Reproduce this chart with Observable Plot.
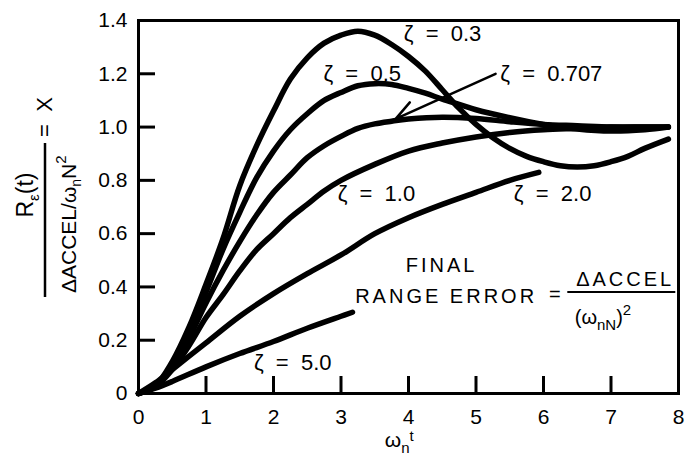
<!DOCTYPE html>
<html><head><meta charset="utf-8">
<script src="https://cdn.jsdelivr.net/npm/d3@7"></script>
<script src="https://cdn.jsdelivr.net/npm/@observablehq/plot@0.6"></script>
<style>
html,body{margin:0;padding:0;background:#fff;}
#chart svg{display:block;}
</style></head><body><div id="chart"></div>
<script>
// ---- data ----
const xTicks = [0,1,2,3,4,5,6,7,8];
const yTicks = [0,0.2,0.4,0.6,0.8,1.0,1.2,1.4];

const x03 = [0,0.25,0.5,0.75,1,1.25,1.5,1.75,2,2.25,2.5,2.75,3,3.25,3.5,3.75,4,4.25,4.5,4.75,5,5.25,5.5,5.75,6,6.25,6.5,6.75,7,7.25,7.5,7.85];
const y03 = [0,0.03,0.12,0.25,0.41,0.58,0.78,0.93,1.06,1.18,1.26,1.315,1.345,1.36,1.345,1.31,1.265,1.21,1.14,1.07,1.01,0.96,0.92,0.89,0.87,0.855,0.85,0.855,0.87,0.89,0.92,0.955];

const x05 = [0,0.25,0.5,0.75,1,1.25,1.5,1.75,2,2.25,2.5,2.75,3,3.25,3.5,3.75,4,4.25,4.5,4.75,5,5.5,6,6.5,7,7.5,7.85];
const y05 = [0,0.03,0.11,0.23,0.38,0.54,0.68,0.81,0.91,0.99,1.05,1.10,1.13,1.155,1.163,1.16,1.145,1.127,1.105,1.085,1.065,1.035,1.01,0.993,0.985,0.99,1.0];

const x0707 = [0,0.25,0.5,0.75,1,1.25,1.5,1.75,2,2.25,2.5,2.75,3,3.25,3.5,3.75,4,4.5,5,5.5,6,6.5,7,7.5,7.85];
const y0707 = [0,0.03,0.1,0.21,0.34,0.46,0.57,0.67,0.755,0.82,0.885,0.93,0.965,0.995,1.012,1.022,1.03,1.037,1.032,1.02,1.01,1.005,1.0,1.0,1.0];

const x10 = [0,0.25,0.5,0.75,1,1.25,1.5,1.75,2,2.25,2.5,2.75,3,3.5,4,4.5,5,5.5,6,6.5,7,7.5,7.85];
const y10 = [0,0.025,0.09,0.18,0.285,0.37,0.46,0.54,0.6,0.66,0.71,0.76,0.8,0.86,0.91,0.94,0.963,0.98,0.99,0.995,1.0,1.0,1.0];

const x20 = [0,0.25,0.5,0.75,1,1.5,2,2.5,3,3.5,4,4.5,5,5.5,5.93];
const y20 = [0,0.04,0.09,0.14,0.19,0.29,0.375,0.45,0.52,0.6,0.66,0.71,0.755,0.8,0.83];

const x50 = [0,0.25,0.5,1,1.5,2,2.5,3,3.17];
const y50 = [0,0.02,0.045,0.1,0.15,0.195,0.245,0.29,0.305];

const zetas = ["0.3","0.5","0.707","1.0","2.0","5.0"];
const seriesX = [x03,x05,x0707,x10,x20,x50];
const seriesY = [y03,y05,y0707,y10,y20,y50];

// curve labels
const labelText = zetas.map(z => "ζ  =  " + z);
const labelX = [3.93,2.74,5.36,2.95,5.56,1.71];
const labelY = [1.35,1.20,1.20,0.75,0.75,0.114];

// arrow for zeta = 0.707
const arrowFrom = [5.29,1.20];
const arrowTo = [3.81,1.031];

// ---- layout ----
const W = 685, H = 457, mL = 138, mR = 7, mT = 20, mB = 64;
const innerW = W - mL - mR, innerH = H - mT - mB;
const FONT = "'Liberation Sans', Arial, Helvetica, sans-serif";
const TICK = 17;

const lineData = seriesX.flatMap((xs, k) => xs.map((x, i) => ({zeta: zetas[k], x, y: seriesY[k][i]})));
const labelData = labelText.map((t, i) => ({t, x: labelX[i], y: labelY[i]}));
const arrowData = [{x1: arrowFrom[0], y1: arrowFrom[1], x2: arrowTo[0], y2: arrowTo[1]}];
const noteMid = [
  {t: "FINAL", x: 4.49, y: 0.481},
  {t: "=", x: 6.19, y: 0.37},
  {t: "ΔACCEL", x: 7.21, y: 0.427}
];
const noteStart = [{t: "RANGE ERROR", x: 3.21, y: 0.365}];
const barData = [{x1: 6.36, x2: 7.96, y: 0.381}];

const plot = Plot.plot({
  width: W, height: H,
  marginLeft: mL, marginRight: mR, marginTop: mT, marginBottom: mB,
  style: {background: "#fff", fontFamily: FONT, fontSize: "21px", color: "#000"},
  x: {domain: [0, 8], label: null},
  y: {domain: [0, 1.4], label: null},
  marks: [
    Plot.tickX(xTicks.slice(1, -1), {x: d => d, insetTop: innerH - TICK, stroke: "#000", strokeWidth: 3}),
    Plot.tickY(yTicks.slice(1, -1), {y: d => d, insetRight: innerW - TICK, stroke: "#000", strokeWidth: 3}),
    Plot.axisX(xTicks, {tickSize: 0, tickPadding: 16, tickFormat: d => String(d), fontSize: 21, label: null}),
    Plot.axisY(yTicks, {tickSize: 0, tickPadding: 11, tickFormat: d => d === 0 ? "0" : d.toFixed(1), fontSize: 21, label: null}),
    Plot.line(lineData, {x: "x", y: "y", z: "zeta", stroke: "#000", strokeWidth: 5.5, curve: "catmull-rom", strokeLinecap: "round", strokeLinejoin: "round"}),
    Plot.arrow(arrowData, {x1: "x1", y1: "y1", x2: "x2", y2: "y2", stroke: "#000", strokeWidth: 2.5, headLength: 13, headAngle: 50}),
    Plot.text(labelData, {x: "x", y: "y", text: "t", textAnchor: "start", fontSize: 22, fill: "#000"}),
    Plot.text(noteMid, {x: "x", y: "y", text: "t", textAnchor: "middle", fontSize: 20, fill: "#000", ariaDescription: "spaced"}),
    Plot.text(noteStart, {x: "x", y: "y", text: "t", textAnchor: "start", fontSize: 20, fill: "#000", ariaDescription: "spaced"}),
    Plot.ruleY(barData, {x1: "x1", x2: "x2", y: "y", stroke: "#000", strokeWidth: 2}),
    Plot.frame({stroke: "#000", strokeWidth: 3})
  ]
});
document.getElementById("chart").appendChild(plot);

// spaced lettering for the note
plot.querySelectorAll('g[aria-description="spaced"] text').forEach(t => t.setAttribute("letter-spacing", "3"));

// rich-text parts positioned through the plot's scales
const sx = plot.scale("x"), sy = plot.scale("y");
const svg = d3.select(plot);

// denominator of the note: (ω_nN)^2
const den = svg.append("text").attr("x", sx.apply(6.47)).attr("y", sy.apply(0.26))
  .attr("text-anchor", "start").attr("font-size", 20).attr("font-family", FONT).attr("fill", "#000");
den.append("tspan").text("(ω");
den.append("tspan").attr("font-size", 15).attr("dy", 6).text("nN");
den.append("tspan").attr("dy", -6).text(")");
den.append("tspan").attr("font-size", 15).attr("dy", -9).text("2");

// x-axis title: ω_n t
const xl = svg.append("text").attr("x", sx.apply(3.87)).attr("y", 447)
  .attr("text-anchor", "middle").attr("font-size", 21).attr("font-family", FONT).attr("fill", "#000");
xl.append("tspan").text("ω");
xl.append("tspan").attr("font-size", 15).attr("dy", 6).text("n");
xl.append("tspan").attr("font-size", 15).attr("dy", -12).text("t");

// y-axis title: R_ε(t) / (ΔACCEL/ω_nN^2) = X
const yl = svg.append("g").attr("transform", "translate(45,220) rotate(-90)")
  .attr("font-family", FONT).attr("fill", "#000");
yl.append("line").attr("x1", -77).attr("x2", 77).attr("y1", 0).attr("y2", 0).attr("stroke", "#000").attr("stroke-width", 2.5);
const num = yl.append("text").attr("x", 25).attr("y", -12).attr("text-anchor", "middle").attr("font-size", 23);
num.append("tspan").text("R");
num.append("tspan").attr("font-size", 15).attr("dy", 6).text("ε");
num.append("tspan").attr("dy", -6).text("(t)");
yl.append("text").attr("x", 103).attr("y", 7).attr("text-anchor", "middle").attr("font-size", 22).text("=  X");
const dn = yl.append("text").attr("x", -73).attr("y", 31).attr("text-anchor", "start").attr("font-size", 21);
dn.append("tspan").text("ΔACCEL/ω");
dn.append("tspan").attr("font-size", 14).attr("dy", 5).text("n");
dn.append("tspan").attr("dy", -5).text("N");
dn.append("tspan").attr("font-size", 15).attr("dy", -10).text("2");
</script></body></html>
